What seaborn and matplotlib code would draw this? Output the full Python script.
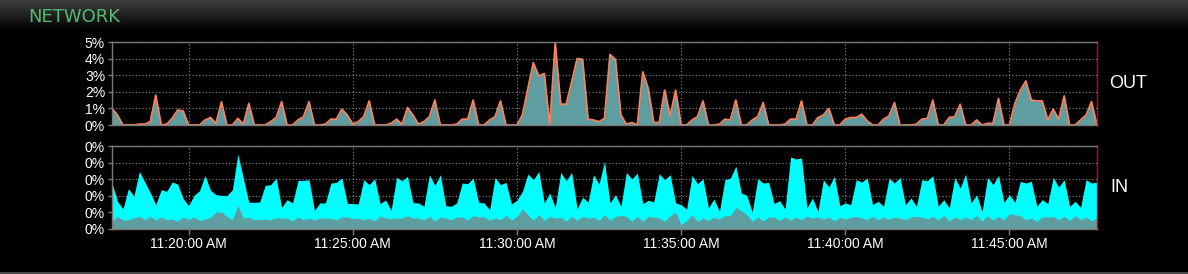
import numpy as np
import pandas as pd
import matplotlib
matplotlib.use("Agg")
import matplotlib.pyplot as plt
import matplotlib.dates as mdates
from matplotlib.patches import Rectangle
import seaborn as sns

# ---------------- data ----------------
start_time = "2024-01-01 11:17:40"
sample_seconds = 10

out_pct = [
    1.0, 0.6, 0, 0, 0, 0.05, 0.05, 0.2, 1.8, 0, 0.05, 0.4, 0.9, 0.85, 0, 0, 0, 0.3,
    0.45, 0.1, 1.4, 0, 0, 0.4, 0.05, 1.3, 0, 0, 0, 0.2, 0.45, 1.4, 0, 0, 0.3, 0.5,
    1.4, 0, 0, 0.05, 0.35, 0.35, 0.95, 0.6, 0.05, 0.2, 0.5, 1.45, 0, 0, 0, 0.1, 0.35, 0.05,
    1.05, 0.6, 0.05, 0.2, 0.5, 1.5, 0, 0, 0, 0.05, 0.35, 0.35, 1.5, 0, 0, 0.3, 0.5, 1.45,
    0, 0, 0, 0.6, 2.2, 3.75, 2.95, 3.1, 0, 4.95, 1.25, 1.25, 2.6, 4.0, 3.95, 0.35, 0.3, 0.2,
    0.4, 4.25, 3.95, 0.6, 0.05, 0.15, 0, 3.2, 2.2, 0.15, 0.15, 2.1, 0.55, 2.1, 0, 0, 0.3, 0.5,
    1.45, 0, 0, 0.05, 0.35, 0.3, 1.5, 0, 0, 0.3, 0.5, 1.35, 0, 0, 0, 0.05, 0.35, 0.35,
    1.45, 0, 0, 0.45, 0.6, 1.0, 0, 0, 0.35, 0.45, 0.45, 0.65, 0.25, 0, 0, 0.35, 0.55, 1.35,
    0, 0, 0, 0.05, 0.35, 0.4, 1.5, 0, 0, 0.45, 0.5, 1.25, 0, 0, 0.3, 0, 0.1, 0.1, 1.6,
    0, 0, 1.3, 2.1, 2.65, 1.5, 1.45, 1.45, 0.3, 0.95, 0.35, 1.75, 0, 0, 0.3, 0.6, 1.4, 0,
]

in_total = [
    2.77, 1.67, 1.22, 2.43, 1.99, 3.47, 2.83, 2.19, 1.47, 2.37, 2.27, 2.83, 2.71, 1.83, 1.41, 2.03, 2.31, 3.23,
    2.33, 2.07, 2.03, 2.01, 2.37, 4.52, 3.07, 1.61, 1.61, 1.63, 2.63, 2.67, 3.07, 1.31, 1.77, 1.57, 2.93, 2.93,
    2.97, 1.12, 1.57, 1.57, 2.77, 2.81, 3.07, 1.55, 1.53, 1.51, 2.97, 2.67, 3.03, 1.53, 1.75, 1.12, 3.11, 2.91,
    3.17, 1.59, 1.57, 1.37, 3.27, 2.63, 3.27, 1.41, 1.37, 1.57, 2.77, 2.73, 3.07, 1.61, 1.57, 1.16, 3.11, 2.67,
    2.81, 1.51, 1.73, 2.27, 3.31, 2.97, 3.47, 1.57, 2.17, 1.31, 3.41, 2.91, 3.41, 1.22, 1.91, 1.63, 3.27, 2.71,
    4.08, 1.57, 2.07, 1.37, 3.41, 3.01, 3.37, 1.53, 1.73, 1.63, 3.33, 2.97, 3.27, 1.57, 1.47, 1.2, 3.23, 2.73,
    3.03, 1.27, 1.81, 1.06, 2.97, 3.07, 3.78, 2.17, 2.03, 1.02, 3.03, 2.77, 2.81, 1.53, 1.71, 1.2, 4.34, 4.22,
    4.28, 1.27, 1.87, 1.06, 2.97, 2.53, 3.17, 1.41, 1.57, 1.47, 2.97, 2.83, 3.07, 1.47, 1.67, 1.37, 3.07, 2.77,
    3.11, 1.47, 1.87, 1.37, 2.97, 2.91, 3.21, 1.37, 1.77, 1.27, 3.11, 2.47, 3.31, 1.57, 2.07, 1.06, 3.11, 2.67,
    3.23, 1.61, 2.07, 1.61, 2.87, 2.77, 2.87, 1.37, 1.77, 1.53, 3.11, 2.53, 2.97, 1.37, 1.67, 1.31, 2.97, 2.77, 2.83,
]

in_base = [
    0.5, 0.76, 0.54, 0.56, 0.66, 0.76, 0.56, 0.76, 0.54, 0.72, 0.56, 0.6, 0.48, 0.72, 0.58, 0.72, 0.52, 0.6,
    0.7, 1.02, 1.02, 0.76, 0.56, 1.43, 0.66, 0.7, 0.56, 0.56, 0.6, 0.56, 0.66, 0.66, 0.66, 0.48, 0.72, 0.56,
    0.66, 0.56, 0.66, 0.66, 0.64, 0.56, 0.72, 0.72, 0.62, 0.66, 0.56, 0.66, 0.5, 0.78, 0.66, 0.62, 0.66, 0.66,
    0.8, 0.66, 0.66, 0.56, 0.76, 0.5, 0.72, 0.66, 0.56, 0.72, 0.72, 0.54, 0.8, 0.72, 0.72, 0.54, 0.66, 0.56,
    0.82, 0.54, 0.76, 1.2, 0.86, 0.52, 0.86, 0.52, 0.76, 0.66, 0.7, 0.48, 0.76, 0.52, 0.76, 0.66, 0.7, 0.52,
    0.86, 0.52, 0.76, 0.82, 0.76, 0.48, 0.76, 0.48, 0.76, 0.72, 0.66, 0.48, 0.8, 1.02, 0.26, 0.5, 0.86, 0.46,
    0.66, 0.52, 0.72, 0.6, 0.8, 0.8, 1.31, 1.1, 0.86, 0.46, 0.72, 0.5, 0.72, 0.72, 0.52, 0.72, 0.54, 0.72,
    0.56, 0.76, 0.66, 0.72, 0.6, 0.72, 0.5, 0.7, 0.6, 0.7, 0.76, 0.66, 0.56, 0.76, 0.56, 0.72, 0.6, 0.72,
    0.66, 0.56, 0.72, 0.76, 0.72, 0.6, 0.76, 0.54, 0.82, 0.5, 0.72, 0.56, 0.72, 0.56, 0.82, 0.48, 0.8, 0.52,
    0.76, 0.56, 0.92, 0.86, 0.8, 0.56, 0.66, 0.46, 0.72, 0.72, 0.76, 0.56, 0.76, 0.52, 0.8, 0.56, 0.72, 0.5, 0.66,
]

out_ticks = [0, 1, 2, 3, 4, 5]
out_tick_labels = ["0%", "1%", "2%", "3%", "4%", "5%"]
in_ticks = [0, 1, 2, 3, 4, 5]
in_tick_labels = ["0%", "0%", "0%", "0%", "0%", "0%"]

title = "NETWORK"
out_label = "OUT"
in_label = "IN"

# ---------------- styling ----------------
sns.set_theme(style="dark")
plt.rcParams["font.family"] = ["Liberation Sans", "DejaVu Sans"]

BG = "#000000"
GRID = "#8a8a8a"
SPINE = "#7a7a7a"
FILL = "#5f9ea0"
LINE = "#f4845f"
CYAN = "#00ffff"

times = pd.date_range(start_time, periods=len(out_pct), freq=f"{sample_seconds}s")
df = pd.DataFrame({"time": times, "out": out_pct, "in_total": in_total, "in_base": in_base})

W, H = 1188, 274
fig = plt.figure(figsize=(W / 100, H / 100), dpi=100, facecolor=BG)

# header gradient
hdr = fig.add_axes([0, 1 - 31 / H, 1, 31 / H])
grad = np.linspace(0.25, 0.0, 64).reshape(-1, 1)
hdr.imshow(grad, aspect="auto", cmap="gray", vmin=0, vmax=1, extent=[0, 1, 0, 1])
hdr.set_axis_off()
fig.text(28 / W, 1 - 17 / H, title, color="#55b86e", fontsize=13,
         family=["DejaVu Sans"], va="center", ha="left")

# bottom border
fig.patches.append(Rectangle((0, 0), 1, 2.5 / H, transform=fig.transFigure,
                             facecolor="#4a4a4a", edgecolor="none"))

left = 112 / W
width = 985 / W
ax1 = fig.add_axes([left, 1 - 125 / H, width, 83 / H])
ax2 = fig.add_axes([left, 1 - 229 / H, width, 83 / H])

xmin, xmax = times[0], times[-1]

# OUT panel
ax1.fill_between(df["time"], 0, df["out"], color=FILL, linewidth=0, zorder=1)
sns.lineplot(data=df, x="time", y="out", ax=ax1, color=LINE, linewidth=1.3, zorder=2)

# IN panel
ax2.fill_between(df["time"], 0, df["in_total"], color=CYAN, linewidth=0, zorder=1)
ax2.fill_between(df["time"], 0, df["in_base"], color=FILL, linewidth=0, zorder=1.5)

for ax, ticks, labels in [(ax1, out_ticks, out_tick_labels), (ax2, in_ticks, in_tick_labels)]:
    ax.set_facecolor(BG)
    ax.set_xlim(xmin, xmax)
    ax.set_ylim(0, 5)
    ax.set_yticks(ticks)
    ax.set_yticklabels(labels)
    ax.set_xlabel("")
    ax.set_ylabel("")
    ax.xaxis.set_major_locator(mdates.MinuteLocator(byminute=range(0, 60, 5)))
    ax.xaxis.set_major_formatter(mdates.DateFormatter("%I:%M:%S %p"))
    ax.set_axisbelow(True)
    ax.grid(True, color=GRID, linestyle=(0, (1, 2)), linewidth=0.8, zorder=0.5)
    for s in ["left", "top", "bottom"]:
        ax.spines[s].set_color(SPINE)
        ax.spines[s].set_linewidth(1.0)
        ax.spines[s].set_visible(True)
        ax.spines[s].set_zorder(3)
    ax.spines["right"].set_color("#e00000")
    ax.spines["right"].set_linewidth(1.0)
    ax.spines["right"].set_visible(True)
    ax.spines["right"].set_zorder(3)
    ax.tick_params(axis="y", colors="white", labelsize=10, length=3, width=1,
                   color=SPINE, pad=2, left=True)

ax1.tick_params(axis="x", bottom=False, labelbottom=False)
ax2.tick_params(axis="x", colors="white", labelsize=10, length=4, width=1,
                color=SPINE, pad=2, bottom=True)

fig.text(1109 / W, 1 - 83 / H, out_label, color="white", fontsize=13, va="center", ha="left")
fig.text(1110 / W, 1 - 187 / H, in_label, color="white", fontsize=13, va="center", ha="left")

fig.savefig("out.png", dpi=100, facecolor=BG)
